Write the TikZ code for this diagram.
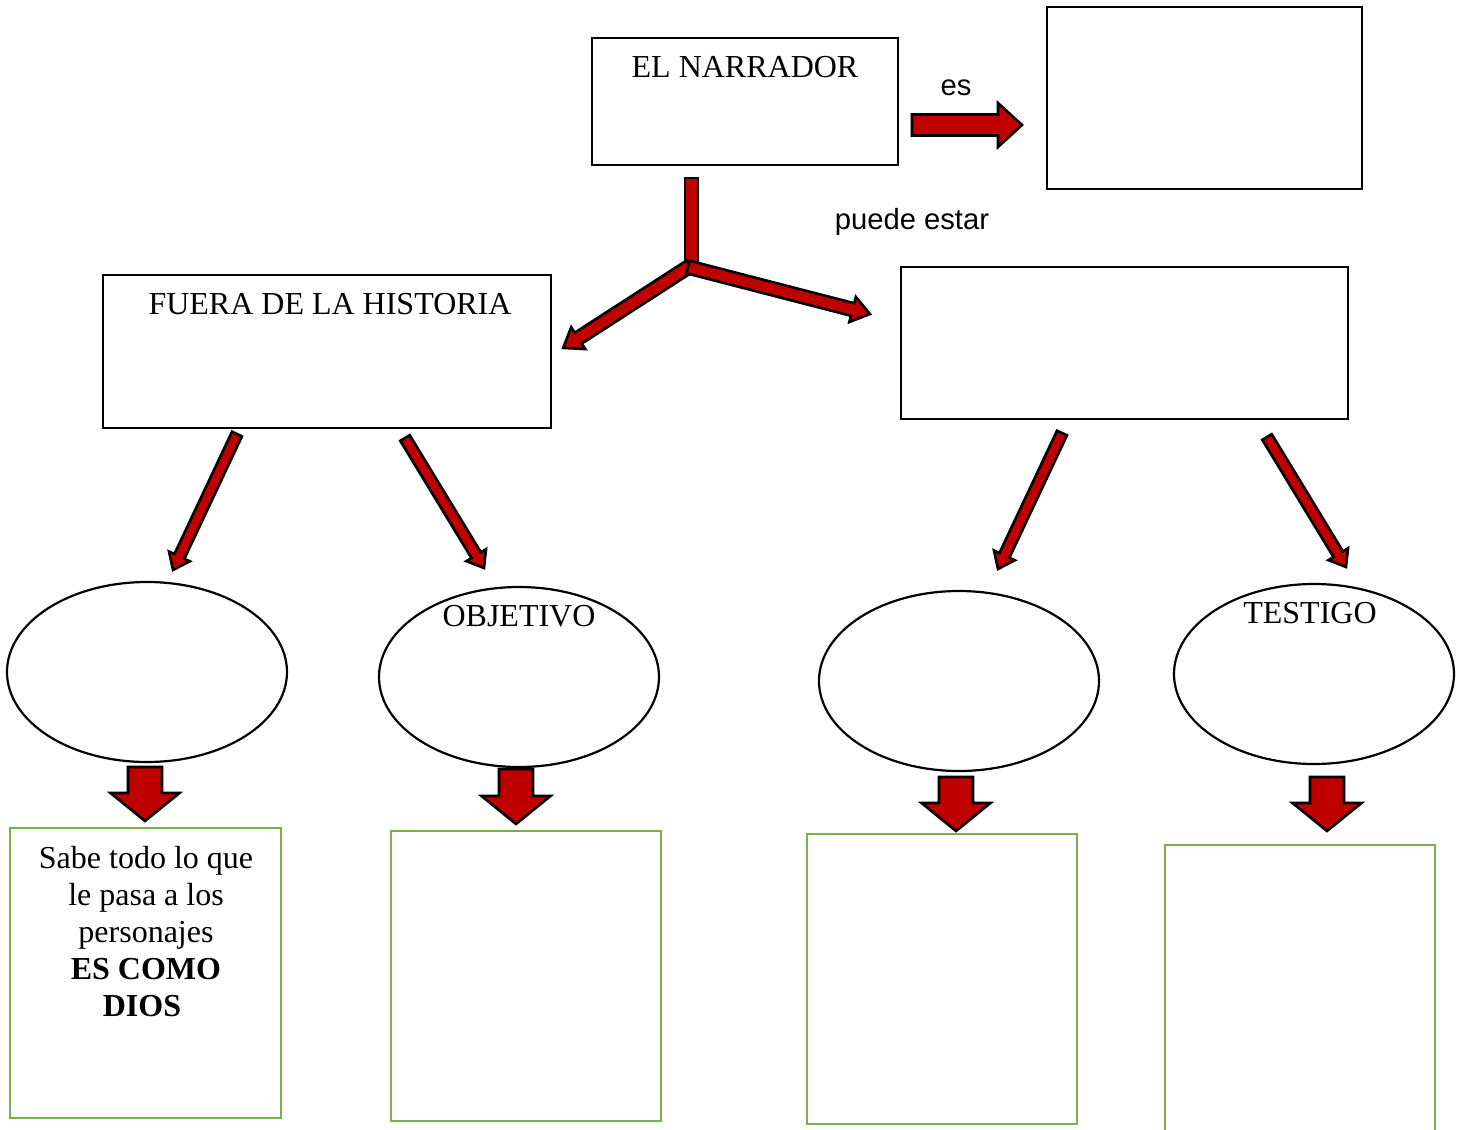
\documentclass[tikz,border=0pt]{standalone}
\usepackage{fontspec}
\setmainfont{Liberation Serif}
\newfontfamily\arialf{Liberation Sans}
\usetikzlibrary{shapes.geometric,calc}
\definecolor{arrred}{HTML}{C00000}
\definecolor{boxgreen}{HTML}{77B24A}
\tikzset{
  blockarr/.style={draw=black, fill=arrred, line width=1.3pt, line join=miter},
  blackbox/.style={draw=black, line width=1pt, rectangle, inner sep=0pt},
  greenbox/.style={draw=boxgreen, line width=1.4pt, rectangle, inner sep=0pt},
  oval/.style={draw=black, line width=1.1pt, ellipse, inner sep=0pt, minimum width=140pt, minimum height=90pt},
  serift/.style={font=\fontsize{16pt}{18.5pt}\selectfont, inner sep=0pt},
  sanst/.style={font=\arialf\fontsize{14.6pt}{16pt}\selectfont, inner sep=0pt}
}
\newcommand\blockarrow[5]{%
  \path let \p1=($(#2)-(#1)$), \n1={atan2(\y1,\x1)}, \n2={veclen(\x1,\y1)} in
    \pgfextra{\pgfmathsetmacro\tmpang{\n1}\xdef\baang{\tmpang}\pgfmathsetmacro\tmplen{\n2}\xdef\balen{\tmplen}};
  \begin{scope}[shift={(#1)},rotate=\baang]
    \draw[blockarr] (0pt,-#3pt) -- ({\balen pt-#5pt},-#3pt) -- ({\balen pt-#5pt},-#4pt) -- (\balen pt,0pt) -- ({\balen pt-#5pt},#4pt) -- ({\balen pt-#5pt},#3pt) -- (0pt,#3pt) -- cycle;
  \end{scope}}
\begin{document}
\begin{tikzpicture}[x=0.5pt,y=-0.5pt]
\useasboundingbox (0,0) rectangle (1463,1130);
% boxes
\node[blackbox, minimum width=153pt, minimum height=63.5pt] (narr) at (745,101.5) {};
\node[blackbox, minimum width=157.5pt, minimum height=91pt] (esbox) at (1204.5,98) {};
\node[blackbox, minimum width=224pt, minimum height=76.5pt] (fuera) at (327,351.5) {};
\node[blackbox, minimum width=223.5pt, minimum height=76pt] (dentro) at (1124.5,343) {};
% texts in boxes
\node[serift] (narrT) at (745,67) {EL NARRADOR};
\node[serift] (fueraT) at (330,304) {FUERA DE LA HISTORIA};
% labels
\node[sanst] (esT) at (956,88) {es};
\node[sanst] (puedeT) at (912,222) {puede estar};
% ellipses
\node[oval] (e1) at (147,672) {};
\node[oval] (e2) at (519,677) {};
\node[oval] (e3) at (959,681) {};
\node[oval] (e4) at (1314,674) {};
\node[serift] (e2T) at (519,616) {OBJETIVO};
\node[serift] (e4T) at (1310,613) {TESTIGO};
% green boxes
\node[greenbox, minimum width=135.5pt, minimum height=145pt] (g1) at (145.5,973) {};
\node[greenbox, minimum width=135pt, minimum height=145pt] (g2) at (526,976) {};
\node[greenbox, minimum width=135pt, minimum height=145pt] (g3) at (942,979) {};
\node[greenbox, minimum width=135pt, minimum height=145pt] (g4) at (1300,990) {};
\node[serift, anchor=north, align=center] (g1T) at (146,846) {Sabe todo lo que\\le pasa a los\\personajes\\\textbf{ES COMO}\\\textbf{DIOS}\hspace*{4pt}};
% arrow coordinates
\coordinate (esS) at (912,125); \coordinate (esE) at (1022,125);
\coordinate (yJ) at (690,266); \coordinate (yL) at (563,348);
\coordinate (yJ2) at (688,267); \coordinate (yR) at (870,314);
\coordinate (a1s) at (237,434); \coordinate (a1e) at (173,570);
\coordinate (a2s) at (405,438); \coordinate (a2e) at (484,568);
\coordinate (a3s) at (1062,433); \coordinate (a3e) at (998,569);
\coordinate (a4s) at (1267,437); \coordinate (a4e) at (1346,567);
\coordinate (d1s) at (145,767); \coordinate (d1e) at (145,821);
\coordinate (d2s) at (516,769); \coordinate (d2e) at (516,824);
\coordinate (d3s) at (956,777); \coordinate (d3e) at (956,831);
\coordinate (d4s) at (1327,777); \coordinate (d4e) at (1327,831);
% arrows
\blockarrow{esS}{esE}{5.25}{11}{12}
\draw[blockarr] (685,178) rectangle (698,264);
\blockarrow{yJ}{yL}{3.25}{6.5}{9}
\blockarrow{yJ2}{yR}{3.25}{6.5}{9}
\blockarrow{a1s}{a1e}{2.75}{5.75}{7.5}
\blockarrow{a2s}{a2e}{2.75}{5.75}{7.5}
\blockarrow{a3s}{a3e}{2.75}{5.75}{7.5}
\blockarrow{a4s}{a4e}{2.75}{5.75}{7.5}
\blockarrow{d1s}{d1e}{8.5}{17.25}{14}
\blockarrow{d2s}{d2e}{8.5}{17.25}{14}
\blockarrow{d3s}{d3e}{8.5}{17.25}{14}
\blockarrow{d4s}{d4e}{8.5}{17.25}{14}
\end{tikzpicture}
\end{document}
